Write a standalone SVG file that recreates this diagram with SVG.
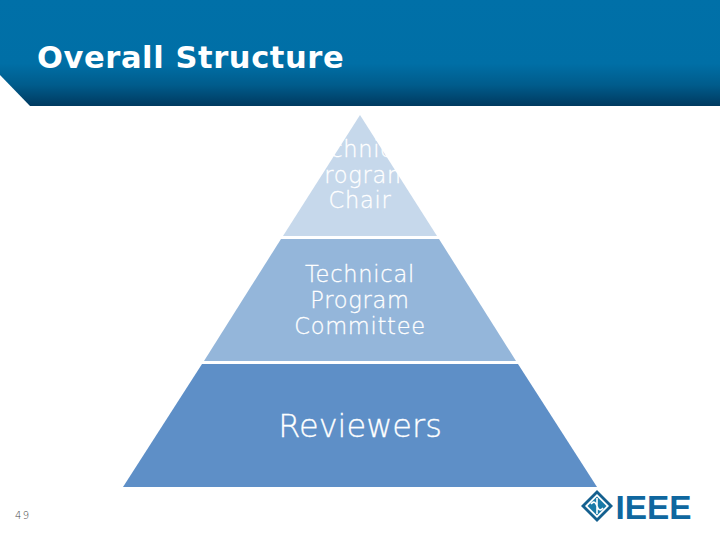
<svg xmlns="http://www.w3.org/2000/svg" width="720" height="540" viewBox="0 0 720 540">
<defs>
<linearGradient id="hdr" x1="0" y1="0" x2="0" y2="1">
<stop offset="0" stop-color="#0070a8"/>
<stop offset="0.6" stop-color="#006fa6"/>
<stop offset="0.8" stop-color="#005c8c"/>
<stop offset="1" stop-color="#003a60"/>
</linearGradient>
</defs>
<style>
.t{font-family:"DejaVu Sans",Verdana,sans-serif;font-weight:200;fill:#fff;stroke:#fff;stroke-width:.3px;text-anchor:middle}
.m{font-size:22.5px;letter-spacing:.75px}
</style>
<rect width="720" height="540" fill="#fff"/>
<g id="header">
<path d="M0 0H720V106H30L0 75Z" fill="url(#hdr)"/>
<text x="37" y="68" font-family="'DejaVu Sans',Verdana,sans-serif" font-weight="700" font-size="30.5" letter-spacing=".6" fill="#fff">Overall Structure</text>
</g>
<g id="tier-top">
<path d="M360 115L437 236H283Z" fill="#c6d8eb"/>
<text class="t m" x="360" y="157">Technical</text>
<text class="t m" x="360" y="183">Program</text>
<text class="t m" x="360" y="208">Chair</text>
</g>
<g id="tier-middle">
<path d="M281 239H439L516 361H204Z" fill="#94b6da"/>
<text class="t m" x="360" y="282">Technical</text>
<text class="t m" x="360" y="308">Program</text>
<text class="t m" x="360" y="334">Committee</text>
</g>
<g id="tier-bottom">
<path d="M202 364H518L597 487H123Z" fill="#5e8fc7"/>
<text class="t" x="360" y="437" font-size="32">Reviewers</text>
</g>
<g id="page-number">
<text x="15" y="519" font-family="'DejaVu Sans',Verdana,sans-serif" font-weight="200" font-size="10" letter-spacing="1.500" fill="#444">49</text>
</g>
<g id="logo">
<path d="M597 490L613 506L597 522L581 506Z" fill="#14608f"/>
<path d="M597 494L609 506L597 518L585 506Z" fill="#fff"/>
<path d="M597 496.500L606.500 506L597 515.500L587.500 506Z" fill="#1a7aa8"/>
<path d="M597 498V514M591 504C594 500 596 503 597 506C598 509 600 512 603 508" fill="none" stroke="#fff" stroke-width="1.600"/>
<text x="615.500" y="519" font-family="'Liberation Sans',Arial,sans-serif" font-weight="700" font-size="34" textLength="76" lengthAdjust="spacingAndGlyphs" fill="#0f679f">IEEE</text>
</g>
</svg>
